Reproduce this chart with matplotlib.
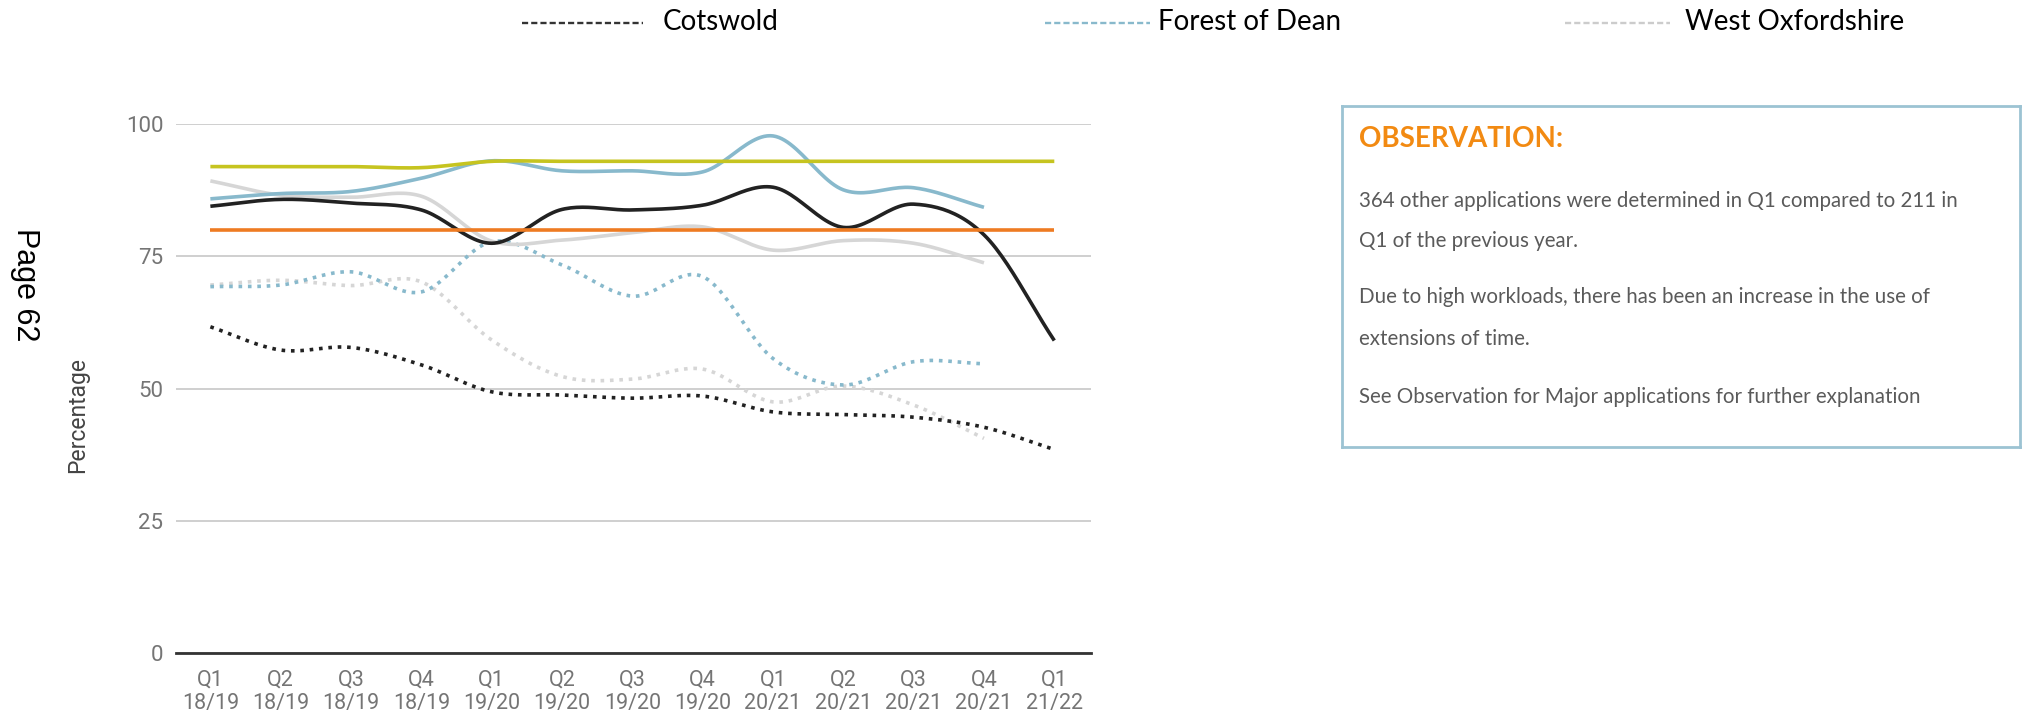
import matplotlib
matplotlib.use("Agg")
import matplotlib.pyplot as plt
from matplotlib.lines import Line2D
import numpy as np

quarters = ["Q1\n18/19", "Q2\n18/19", "Q3\n18/19", "Q4\n18/19",
            "Q1\n19/20", "Q2\n19/20", "Q3\n19/20", "Q4\n19/20",
            "Q1\n20/21", "Q2\n20/21", "Q3\n20/21", "Q4\n20/21",
            "Q1\n21/22"]

# targets
national_target = [92, 92, 92, 91.8, 93, 93, 93, 93, 93, 93, 93, 93, 93]
local_target = [80, 80, 80, 80, 80, 80, 80, 80, 80, 80, 80, 80, 80]

# solid = including extensions of time, dotted = within 8 weeks
cotswold_solid = [84.5, 85.8, 85.1, 83.8, 77.5, 83.9, 83.8, 84.7, 88.1, 80.5, 84.9, 79.1, 59.1]
forest_solid = [85.9, 86.9, 87.3, 89.8, 93.1, 91.2, 91.2, 91.0, 97.8, 87.6, 88.0, 84.3]
west_solid = [89.3, 86.6, 86.2, 86.4, 77.9, 78.1, 79.5, 80.6, 76.2, 78.0, 77.5, 73.8]

cotswold_dotted = [61.7, 57.3, 57.8, 54.5, 49.4, 48.8, 48.2, 48.6, 45.6, 45.1, 44.6, 42.7, 38.5]
forest_dotted = [69.3, 69.6, 72.1, 68.3, 77.8, 73.4, 67.5, 71.2, 55.7, 50.7, 55.1, 54.7]
west_dotted = [69.6, 70.5, 69.5, 70.2, 59.2, 52.3, 51.8, 53.7, 47.5, 50.5, 46.9, 40.6]

y_ticks = [0, 25, 50, 75, 100]

BLACK = "#222222"
BLUE = "#88b9cc"
GREY = "#d6d6d6"
YELLOW = "#c6c420"
ORANGE = "#ee7b22"
DOT = (0, (1, 1.6))


def smooth(values, n=24):
    """Catmull-Rom style curve through the points, like curveType 'function'"""
    y = np.asarray(values, dtype=float)
    m = np.gradient(y)
    xs, ys = [], []
    t = np.linspace(0, 1, n, endpoint=False)
    h00 = 2 * t**3 - 3 * t**2 + 1
    h10 = t**3 - 2 * t**2 + t
    h01 = -2 * t**3 + 3 * t**2
    h11 = t**3 - t**2
    for i in range(len(y) - 1):
        xs.append(i + t)
        ys.append(h00 * y[i] + h10 * m[i] + h01 * y[i + 1] + h11 * m[i + 1])
    xs.append([len(y) - 1])
    ys.append([y[-1]])
    return np.concatenate(xs), np.concatenate(ys)


def draw(ax, values, color, ls="-", lw=2.4):
    x, y = smooth(values)
    ax.plot(x, y, color=color, linestyle=ls, linewidth=lw,
            solid_capstyle="butt", dash_capstyle="butt", clip_on=False)


fig = plt.figure(figsize=(20.22, 7.21), dpi=100)
ax = fig.add_axes([0.0870, 0.0943, 0.4525, 0.7333])

draw(ax, west_dotted, GREY, DOT, 2.6)
draw(ax, forest_dotted, BLUE, DOT, 2.6)
draw(ax, cotswold_dotted, BLACK, DOT, 2.6)
draw(ax, west_solid, GREY, lw=2.6)
draw(ax, forest_solid, BLUE, lw=2.6)
draw(ax, cotswold_solid, BLACK, lw=2.6)
draw(ax, national_target, YELLOW, lw=2.6)
draw(ax, local_target, ORANGE, lw=2.6)

ax.set_xlim(-0.49, 12.52)
ax.set_ylim(0, 100)
ax.set_yticks(y_ticks)
ax.set_xticks(range(len(quarters)))
ax.set_xticklabels(quarters, linespacing=1.15)
ax.grid(axis="y", color="#cccccc", linewidth=1.3)
ax.set_axisbelow(True)
for side in ["top", "right", "left"]:
    ax.spines[side].set_visible(False)
ax.spines["bottom"].set_color("#333333")
ax.spines["bottom"].set_linewidth(2)
ax.tick_params(length=0, colors="#757575")
ax.tick_params(axis="y", pad=9, labelsize=16)
ax.tick_params(axis="x", pad=12, labelsize=15.5)
for lab in ax.get_xticklabels() + ax.get_yticklabels():
    lab.set_fontfamily("Roboto")

fig.text(0.0386, 0.4245, "Percentage", rotation=90, ha="center", va="center",
         fontsize=16.5, color="#444444", family="Roboto")
fig.text(0.0124, 0.605, "Page 62", rotation=270, ha="center", va="center",
         fontsize=22, color="black", family="Liberation Sans")

# legend across the top
legend_items = [
    ("Cotswold", "#333333", 0.2582, 0.318, 0.3279),
    ("Forest of Dean", BLUE, 0.5168, 0.5687, 0.5727),
    ("West Oxfordshire", "#cccccc", 0.774, 0.826, 0.8333),
]
for name, col, x0, x1, tx in legend_items:
    fig.add_artist(Line2D([x0, x1], [0.968, 0.968], transform=fig.transFigure,
                          color=col, linewidth=1.7, linestyle=(0, (2.6, 1.3))))
    fig.text(tx, 0.9584, name, ha="left", va="baseline", fontsize=20,
             color="black", family="Lato")

# observation box
box = fig.add_axes([0.6637, 0.380, 0.3353, 0.473])
box.set_xticks([])
box.set_yticks([])
for s in box.spines.values():
    s.set_color("#9cc3d3")
    s.set_linewidth(2)
box.text(0.025, 0.881, "OBSERVATION:", transform=box.transAxes, ha="left",
         va="baseline", fontsize=20, fontweight="bold", color="#f28a12",
         family="Lato")
obs_lines = [
    (0.705, "364 other applications were determined in Q1 compared to 211 in"),
    (0.587, "Q1 of the previous year."),
    (0.421, "Due to high workloads, there has been an increase in the use of"),
    (0.299, "extensions of time."),
    (0.128, "See Observation for Major applications for further explanation"),
]
for yy, txt in obs_lines:
    box.text(0.025, yy, txt, transform=box.transAxes, ha="left", va="baseline",
             fontsize=14.8, color="#5a5a5a", family="Lato")

fig.savefig("out.png", dpi=100)
